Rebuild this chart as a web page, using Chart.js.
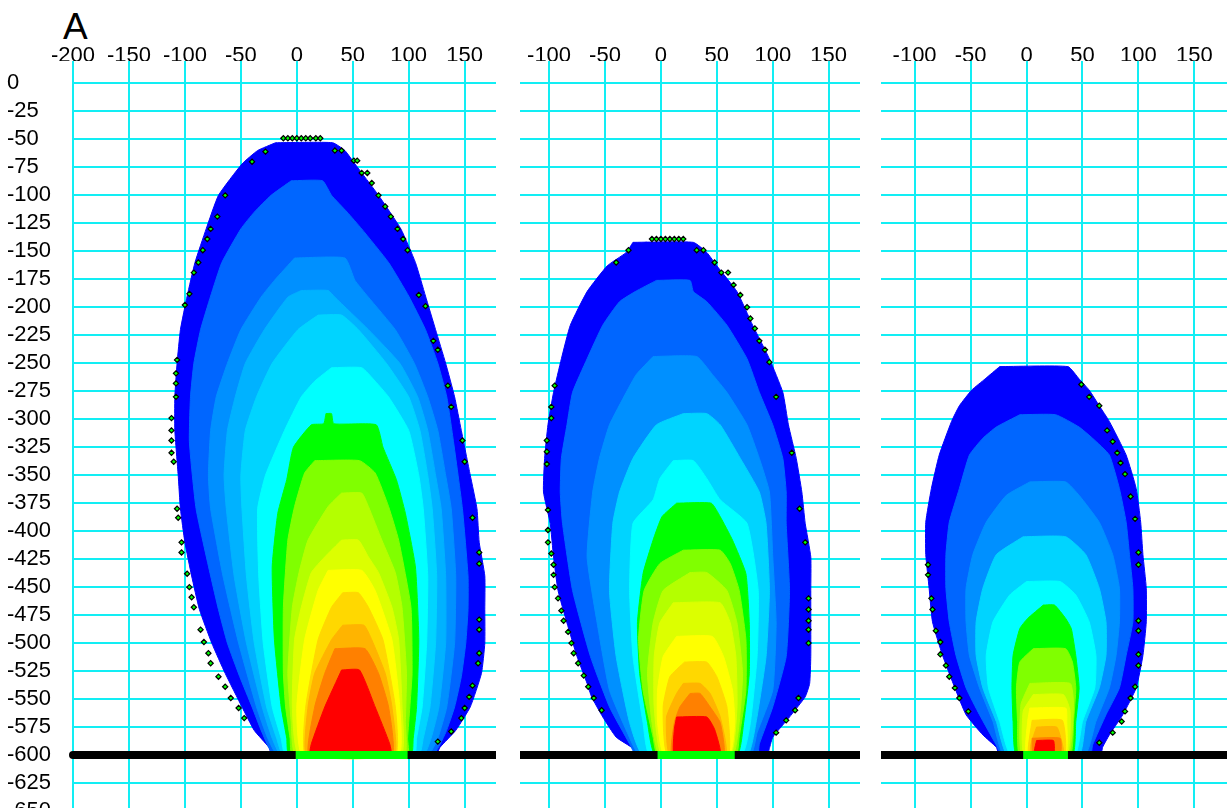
<!DOCTYPE html>
<html>
<head>
<meta charset="utf-8">
<script src="https://cdn.jsdelivr.net/npm/chart.js@4.4.1/dist/chart.umd.min.js"></script>
<style>
  html, body { margin: 0; padding: 0; background: #fff; width: 1227px; height: 808px; overflow: hidden; }
  canvas.panel { position: absolute; top: 0; }
  #tag { position: absolute; left: 63px; top: 8px; font-family: "Liberation Sans", Arial, sans-serif;
         font-size: 37px; line-height: 37px; color: #000; }
</style>
</head>
<body>
<div id="tag">A</div>
<canvas id="panel-a" class="panel"></canvas>
<canvas id="panel-b" class="panel"></canvas>
<canvas id="panel-c" class="panel"></canvas>
<script>
// Concentration bands, outermost (lowest) first.
const LEVEL_COLORS = [
    "#0000ff", "#0066ff", "#0090ff", "#00b2ff", "#00d4ff", "#00ffff",
    "#00ff00", "#80ff00", "#b4ff00", "#dcff00", "#ffff00",
    "#ffd800", "#ffb400", "#ff8000", "#ff0000",
];

// Axis ranges / ticks
const Y_RANGE = [-700, 20];
const Y_STEP = 25;
const X_STEP = 50;
const X_RANGE_A = [-200, 178];
const X_RANGE_B = [-126, 178];
const X_RANGE_C = [-130, 180];

// Each band: [colour index, rows of [y, xLeft, xRight]] from the top of the band down to the ground.
const plumeA = [
    [0, [[-53,-19,32],[-60,-35,43],[-72,-49,52],[-100,-70,73],[-130,-81,93],[-160,-91,106],[-190,-98,115],
         [-220,-104,124],[-250,-107,133],[-280,-109,141],[-310,-109,147],[-350,-106,155],[-380,-104,161],
         [-410,-100,163],[-440,-94,168],[-470,-87,168],[-500,-76,168],[-527,-64,165],[-557,-49,155],
         [-578,-38,142],[-593,-25,128],[-600,-22,124]]],
    [1, [[-87,-5,23],[-100,-23,31],[-115,-38,45],[-130,-50,58],[-160,-67,82],[-190,-77,100],[-220,-86,115],
         [-250,-92,126],[-280,-95,134],[-320,-96,140],[-380,-90,148],[-440,-77,153],[-470,-70,153],
         [-500,-62,151],[-530,-51,147],[-557,-40,141],[-580,-31,133],[-600,-20,121]]],
    [2, [[-156,-2,43],[-176,-20,52],[-191,-32,64],[-220,-50,88],[-250,-62,105],[-280,-72,117],[-310,-77,126],
         [-350,-79,133],[-380,-77,138],[-440,-66,142],[-500,-52,141],[-557,-36,134],[-585,-26,126],[-600,-17,117]]],
    [3, [[-185,4,28],[-191,-8,34],[-220,-29,64],[-250,-46,92],[-280,-55,108],[-310,-62,117],[-350,-65,124],
         [-380,-63,129],[-440,-56,133],[-500,-45,133],[-557,-31,127],[-585,-22,120],[-600,-14,113]]],
    [4, [[-207,19,40],[-220,1,55],[-250,-22,80],[-280,-36,100],[-310,-46,110],[-350,-50,117],[-380,-49,121],
         [-440,-45,125],[-500,-38,124],[-557,-27,119],[-585,-18,113],[-600,-12,109]]],
    [5, [[-254,31,58],[-266,16,70],[-280,4,82],[-310,-11,100],[-350,-28,109],[-380,-35,113],[-440,-34,117],
         [-500,-30,116],[-557,-22,112],[-585,-14,107],[-600,-10,105]]],
    [6, [[-295,26,31],[-304,24,33],[-305,13,71],[-325,-3,77],[-354,-9,89],[-384,-17,97],[-432,-22,106],
         [-497,-20,109],[-557,-14,107],[-585,-9,104],[-600,-7,102]]],
    [7, [[-337,16,56],[-348,7,70],[-378,-2,82],[-408,-8,91],[-468,-12,102],[-527,-12,103],[-557,-10,101],
         [-585,-6,99],[-600,-4,99]]],
    [8, [[-366,40,58],[-378,28,64],[-408,10,76],[-437,2,88],[-468,-4,94],[-527,-8,98],[-570,-5,97],[-600,-1,96]]],
    [9, [[-408,40,55],[-423,25,64],[-437,13,73],[-468,4,85],[-497,-2,91],[-557,-4,94],[-600,2,93]]],
    [10, [[-435,28,58],[-453,19,70],[-497,7,85],[-557,0,92],[-600,5,91]]],
    [11, [[-455,41,55],[-468,31,64],[-497,19,77],[-557,8,88],[-600,8,88]]],
    [12, [[-484,41,60],[-497,31,67],[-527,16,79],[-557,10,85],[-600,9,87]]],
    [13, [[-505,34,61],[-527,25,73],[-557,16,82],[-600,11,85]]],
    [14, [[-524,40,56],[-557,25,70],[-590,13,83],[-600,12,84]]],
];

const plumeB = [
    [0, [[-142,-25,29],[-151,-31,41],[-163,-48,50],[-186,-66,68],[-216,-81,82],[-246,-89,97],[-276,-96,109],
         [-305,-101,114],[-335,-104,121],[-365,-105,126],[-393,-99,129],[-423,-96,134],[-453,-92,134],
         [-482,-84,134],[-512,-75,134],[-536,-66,133],[-548,-62,129],[-566,-52,115],[-584,-40,100],
         [-594,-25,97],[-600,-22,95]]],
    [1, [[-176,-4,26],[-186,-23,29],[-195,-37,41],[-216,-52,59],[-246,-66,77],[-276,-79,88],[-305,-84,100],
         [-335,-89,109],[-365,-90,112],[-393,-88,112],[-453,-79,115],[-512,-63,112],[-557,-46,100],
         [-590,-28,88],[-600,-22,86]]],
    [2, [[-244,-7,32],[-260,-22,46],[-276,-31,59],[-305,-46,77],[-335,-55,88],[-365,-61,97],[-423,-66,100],
         [-482,-57,103],[-542,-46,100],[-580,-30,86],[-600,-19,80]]],
    [4, [[-295,20,41],[-305,-4,53],[-335,-25,71],[-365,-37,88],[-393,-43,94],[-453,-46,97],[-512,-40,94],
         [-571,-28,85],[-600,-16,77]]],
    [5, [[-337,11,29],[-353,-1,41],[-372,-7,53],[-393,-25,77],[-453,-28,87],[-512,-25,86],[-571,-16,80],
         [-600,-10,72]]],
    [6, [[-375,14,45],[-387,1,53],[-408,-7,64],[-438,-16,76],[-482,-21,79],[-527,-19,79],[-571,-12,74],
         [-600,-5,68]]],
    [7, [[-417,20,53],[-429,-1,62],[-453,-15,70],[-497,-20,76],[-542,-16,76],[-584,-7,70],[-600,-3,67]]],
    [8, [[-437,26,41],[-453,2,59],[-482,-7,68],[-527,-12,73],[-571,-8,70],[-600,-1,64]]],
    [9, [[-464,11,53],[-482,-1,62],[-512,-6,67],[-557,-6,68],[-600,1,62]]],
    [10, [[-494,14,46],[-512,2,56],[-542,-3,64],[-571,-3,66],[-600,3,61]]],
    [11, [[-517,21,41],[-530,8,50],[-557,2,59],[-600,6,60]]],
    [12, [[-536,20,35],[-545,14,44],[-566,5,53],[-600,8,58]]],
    [13, [[-545,26,35],[-557,17,44],[-571,12,53],[-600,10,56]]],
    [14, [[-566,14,41],[-577,12,48],[-600,12,53]]],
];

const plumeC = [
    [0, [[-253,-24,37],[-264,-37,47],[-274,-49,56],[-288,-60,65],[-302,-67,74],[-332,-78,89],[-362,-85,98],
         [-392,-90,102],[-421,-90,104],[-451,-87,107],[-481,-84,107],[-511,-75,104],[-540,-64,98],
         [-564,-54,86],[-582,-39,74],[-593,-27,68],[-600,-24,66]]],
    [1, [[-296,-6,26],[-307,-27,47],[-317,-39,59],[-332,-51,74],[-362,-60,83],[-392,-69,89],[-421,-72,92],
         [-451,-72,95],[-481,-69,95],[-511,-63,89],[-540,-54,83],[-564,-42,71],[-591,-27,59],[-600,-22,57]]],
    [2, [[-356,3,35],[-368,-18,47],[-392,-36,65],[-421,-48,77],[-451,-54,83],[-481,-54,83],[-511,-51,80],
         [-540,-42,74],[-570,-30,62],[-600,-20,52]]],
    [4, [[-405,-3,35],[-421,-27,53],[-451,-39,65],[-481,-45,71],[-511,-45,71],[-540,-39,65],[-570,-27,53],
         [-600,-17,47]]],
    [5, [[-445,0,30],[-457,-15,44],[-481,-30,56],[-511,-36,62],[-540,-34,61],[-570,-24,50],[-600,-14,43]]],
    [6, [[-466,15,25],[-478,1,35],[-487,-6,40],[-511,-12,44],[-540,-13,47],[-570,-12,44],[-600,-9,41]]],
    [7, [[-505,6,35],[-517,-6,41],[-540,-9,44],[-570,-8,42],[-600,-6,39]]],
    [8, [[-536,3,39],[-555,-5,42],[-600,-4,37]]],
    [9, [[-546,6,33],[-561,-3,39],[-600,-2,36]]],
    [10, [[-558,3,35],[-570,1,36],[-600,0,35]]],
    [11, [[-569,5,32],[-600,2,34]]],
    [12, [[-575,9,27],[-590,4,32],[-600,4,33]]],
    [13, [[-585,5,30],[-600,6,30]]],
    [14, [[-587,9,24],[-596,7,25],[-600,8,24]]],
];

// Edge markers [x, y]
const markersA = [
    [-12,-49],[-8,-49],[-4,-49],[0,-49],[4,-49],[8,-49],[12,-49],[17,-49],[21,-49],
    [-28,-61],[-40,-70],[-64,-100],[-71,-119],[-77,-130],[-80,-139],[-84,-149],[-88,-160],[-92,-169],
    [-96,-188],[-100,-198],[-107,-247],[-108,-259],[-108,-268],[-108,-280],[-112,-299],[-112,-310],
    [-112,-319],[-112,-330],[-110,-338],[-107,-380],[-106,-388],[-103,-410],[-103,-419],[-98,-438],
    [-96,-450],[-94,-459],[-92,-468],[-86,-488],[-83,-499],[-79,-509],[-77,-518],[-70,-530],[-64,-539],
    [-59,-549],[-52,-558],[-47,-567],
    [34,-60],[40,-60],[51,-69],[54,-69],[58,-80],[63,-80],[67,-89],[73,-100],[79,-110],[84,-119],
    [90,-130],[95,-139],[99,-149],[109,-189],[115,-199],[122,-230],[126,-238],[135,-270],[138,-289],
    [148,-319],[150,-338],[157,-388],[163,-419],[163,-429],[163,-479],[163,-488],[163,-509],[162,-518],
    [157,-538],[154,-548],[150,-558],[147,-567],[138,-579],[126,-588],
];
const markersB = [
    [-8,-139],[-4,-139],[0,-139],[4,-139],[8,-139],[12,-139],[16,-139],[20,-139],
    [-29,-149],[-40,-160],[-95,-270],[-98,-289],[-98,-299],[-102,-319],[-102,-329],[-102,-340],
    [-101,-381],[-101,-399],[-101,-410],[-98,-420],[-96,-430],[-96,-439],[-95,-450],[-92,-460],
    [-89,-471],[-87,-480],[-83,-490],[-80,-500],[-78,-509],[-74,-518],[-69,-529],[-65,-539],[-60,-549],
    [-53,-560],
    [32,-149],[38,-149],[48,-160],[54,-169],[60,-169],[65,-180],[71,-189],[77,-200],[80,-210],[84,-219],
    [88,-230],[93,-238],[97,-249],[103,-280],[117,-330],[124,-380],[129,-410],[132,-460],[132,-470],
    [132,-480],[132,-488],[132,-500],[123,-549],[120,-560],[112,-569],[103,-580],
];
const markersC = [
    [49,-269],[56,-280],[65,-288],[72,-310],[77,-320],[81,-330],[84,-339],[88,-349],[93,-369],[97,-389],
    [100,-419],[100,-430],[100,-480],[100,-489],[100,-510],[100,-520],[97,-539],[93,-549],[88,-561],
    [85,-570],[77,-580],[65,-589],
    [-88,-430],[-88,-439],[-85,-460],[-84,-470],[-81,-489],[-77,-499],[-77,-510],[-72,-520],[-69,-530],
    [-64,-540],[-60,-549],[-52,-561],
];

// Ground line at y = -600 and the green source strip on it: [start, end]
const GROUND_Y = -600;
const sourceA = [-1, 99];
const sourceB = [-3, 66];
const sourceC = [-3, 37];

// ---- layout (pixels) ----
const PX = 1.12;              // pixels per unit, both axes
const TOP_AXIS = 61;          // height of the top tick-label band
const GRID = "#12eef4";
const TICK_FONT = { family: "'Liberation Sans', Arial, sans-serif", size: 22 };

function bandPoints(rows) {
    // Down the left edge, back up the right edge, closed.
    const left = rows.map(r => ({ x: r[1], y: r[0] }));
    const right = rows.slice().reverse().map(r => ({ x: r[2], y: r[0] }));
    const pts = left.concat(right);
    pts.push(pts[0]);
    return pts;
}

function buildDatasets(plume, markers, xRange, source, clipGround) {
    const sets = plume.map(([level, rows]) => ({
        data: bandPoints(rows),
        borderColor: LEVEL_COLORS[level],
        backgroundColor: LEVEL_COLORS[level],
        borderWidth: 1,
        pointRadius: 0,
        tension: 0.15,
        fill: "shape",
        order: 100 - level,
    }));
    sets.push({
        data: markers.map(([x, y]) => ({ x, y })),
        showLine: false,
        pointStyle: "rectRot",
        pointRadius: 2.6,
        pointBackgroundColor: "#00ff00",
        pointBorderColor: "#000",
        pointBorderWidth: 1.2,
        order: 3,
    });
    sets.push({
        data: [{ x: xRange[0], y: GROUND_Y }, { x: xRange[1], y: GROUND_Y }],
        borderColor: "#000",
        borderWidth: 8,
        borderCapStyle: "round",
        pointRadius: 0,
        clip: clipGround ? undefined : false,
        order: 2,
    });
    sets.push({
        data: [{ x: source[0], y: GROUND_Y }, { x: source[1], y: GROUND_Y }],
        borderColor: "#00ff00",
        borderWidth: 8,
        borderCapStyle: "butt",
        pointRadius: 0,
        order: 1,
    });
    return sets;
}

// Stop edge tick labels from shrinking the plot area.
function noEdgePadding(s) {
    s.paddingTop = 0;
    s.paddingBottom = 0;
    s.paddingLeft = 0;
    s.paddingRight = 0;
}

function makePanel(id, opts) {
    const canvas = document.getElementById(id);
    const areaW = (opts.xRange[1] - opts.xRange[0]) * PX;
    const areaH = (Y_RANGE[1] - Y_RANGE[0]) * PX;
    const areaLeft = opts.padLeft + opts.yWidth;
    canvas.width = Math.round(areaLeft + areaW);
    canvas.height = Math.round(TOP_AXIS + areaH);
    canvas.style.left = Math.round(opts.zeroPx + opts.xRange[0] * PX - areaLeft) + "px";

    new Chart(canvas, {
        type: "line",
        data: { datasets: buildDatasets(opts.plume, opts.markers, opts.xRange, opts.source, opts.clipGround) },
        options: {
            responsive: false,
            animation: false,
            events: [],
            layout: { autoPadding: false, padding: { left: opts.padLeft, top: 0, right: 0, bottom: 0 } },
            plugins: { legend: { display: false }, tooltip: { enabled: false } },
            scales: {
                x: {
                    type: "linear",
                    position: "top",
                    min: opts.xRange[0],
                    max: opts.xRange[1],
                    afterFit: s => { s.height = TOP_AXIS; noEdgePadding(s); },
                    ticks: {
                        stepSize: X_STEP, includeBounds: false, autoSkip: false, maxRotation: 0,
                        padding: -8, font: TICK_FONT, color: "#000",
                    },
                    grid: { color: GRID, lineWidth: 2, drawTicks: false },
                    border: { display: false },
                },
                y: {
                    type: "linear",
                    min: Y_RANGE[0],
                    max: Y_RANGE[1],
                    afterFit: s => { s.width = opts.yWidth; noEdgePadding(s); },
                    ticks: {
                        display: opts.yWidth > 0, stepSize: Y_STEP, includeBounds: false, autoSkip: false,
                        crossAlign: "far", padding: 0, font: TICK_FONT, color: "#000",
                    },
                    grid: { color: GRID, lineWidth: 2, drawTicks: false },
                    border: { display: false },
                },
            },
        },
    });
}

makePanel("panel-a", { plume: plumeA, markers: markersA, xRange: X_RANGE_A, source: sourceA,
                       zeroPx: 297, padLeft: 8, yWidth: 66, clipGround: false });
makePanel("panel-b", { plume: plumeB, markers: markersB, xRange: X_RANGE_B, source: sourceB,
                       zeroPx: 661, padLeft: 0, yWidth: 0, clipGround: true });
makePanel("panel-c", { plume: plumeC, markers: markersC, xRange: X_RANGE_C, source: sourceC,
                       zeroPx: 1027, padLeft: 0, yWidth: 0, clipGround: true });
</script>
</body>
</html>
